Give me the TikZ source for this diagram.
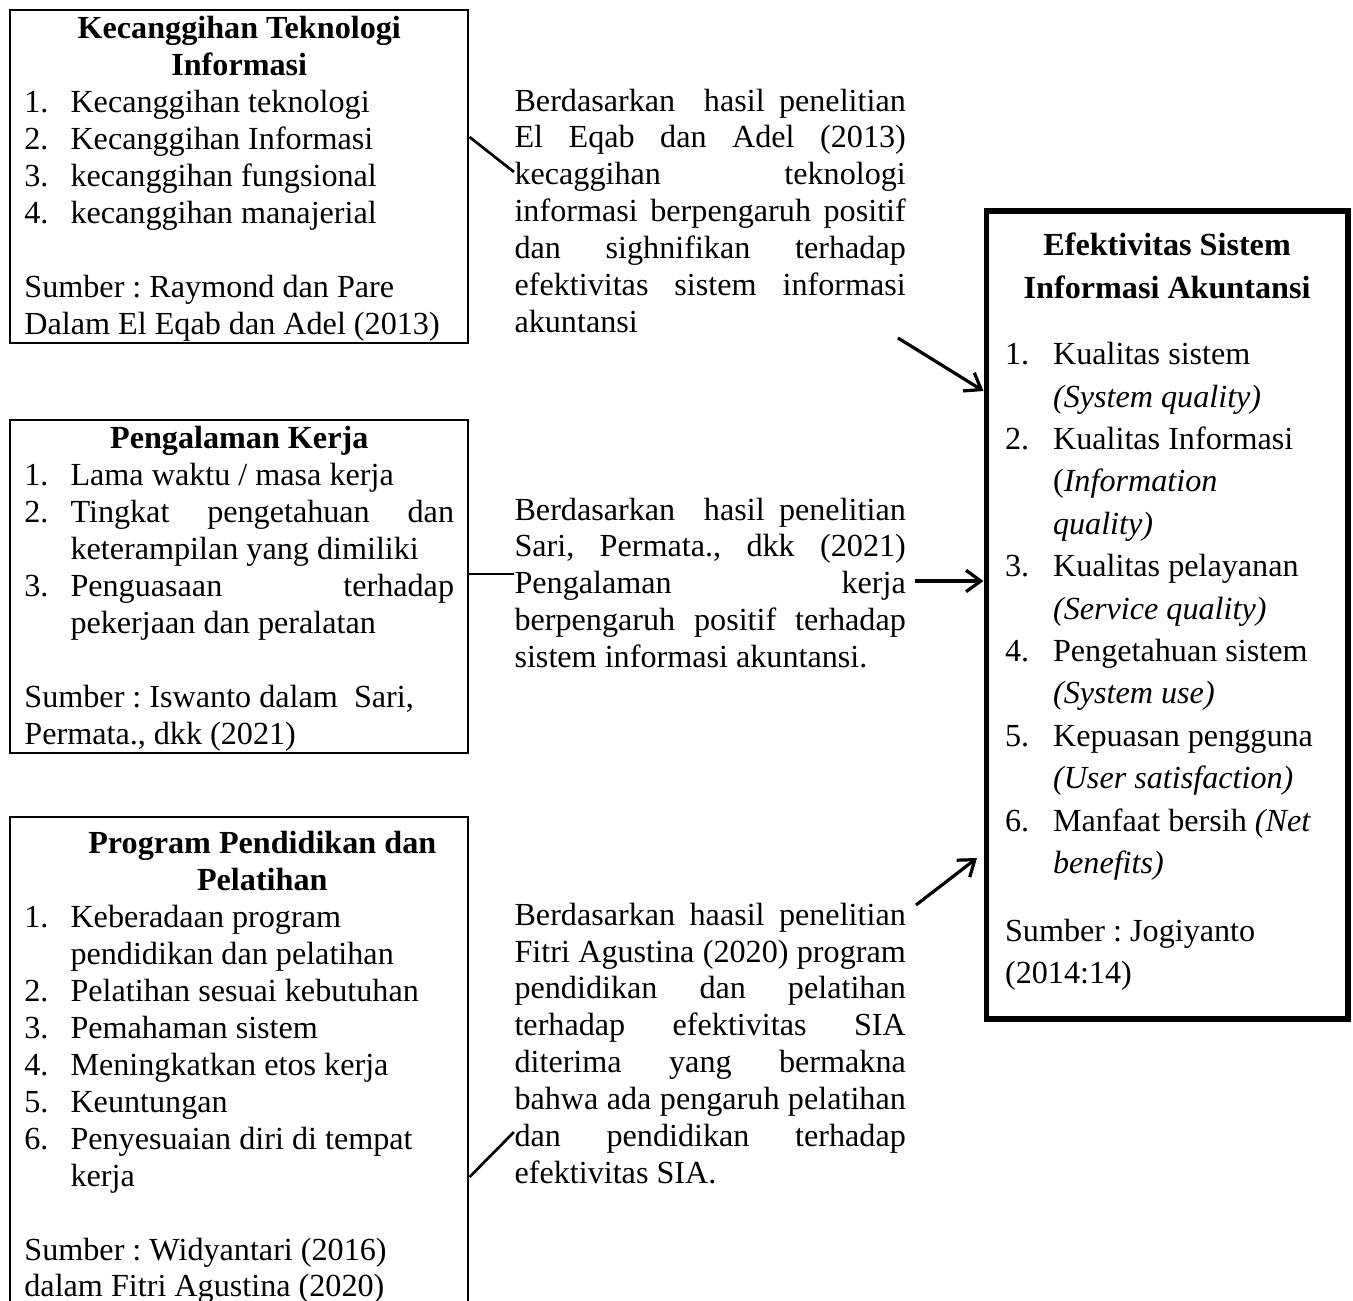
\documentclass[tikz,border=0pt]{standalone}
\usepackage{fontspec}
\setmainfont{Liberation Serif}
\usetikzlibrary{arrows.meta}
\newlength{\numw}
\setlength{\numw}{17.2pt}
\newcommand{\polos}{\spaceskip=0pt\xspaceskip=0pt\frenchspacing}
\newcommand{\judul}[1]{\makebox[\linewidth][c]{\bfseries #1}}
\newcommand{\judulin}[1]{\hspace*{\numw}\makebox[\dimexpr\linewidth-\numw\relax][c]{\bfseries #1}}
\newcommand{\butir}[2]{\makebox[\numw][l]{#1}#2}
\newcommand{\butirr}[2]{\makebox[\numw][l]{#1}\hbox to \dimexpr\linewidth-\numw\relax{\polos #2}}
\newcommand{\lanjut}[1]{\hspace*{\numw}#1}
\newcommand{\rata}[1]{\leavevmode\hbox to \linewidth{\polos #1}}
\newcommand{\atas}[1]{\rule{0pt}{#1}}
\newcommand{\bawah}[1]{\rule[-#1]{0pt}{#1}}
\tikzset{
    varbox/.style={
        draw,
        line width=0.9pt,
        anchor=north west,
        inner xsep=5.3pt,
        inner ysep=0pt,
        text width=160.3pt,
        align=flush left,
        font=\fontsize{12pt}{13.8pt}\selectfont,
        execute at begin node={\polos}
    },
    sisbox/.style={
        draw,
        line width=2.1pt,
        anchor=north west,
        inner xsep=7pt,
        inner ysep=0pt,
        text width=120.9pt,
        align=flush left,
        font=\fontsize{12pt}{15.82pt}\selectfont,
        execute at begin node={\polos\setlength{\numw}{17.9pt}}
    },
    hasil/.style={
        anchor=base west,
        inner sep=0pt,
        text width=146pt,
        align=flush left,
        font=\fontsize{12pt}{13.8pt}\selectfont,
        execute at begin node={\polos}
    },
    garis/.style={line width=1pt},
    panah/.style={line width=1.2pt, -{Straight Barb[length=5.5pt,width=8pt]}}
}

\begin{document}
\begin{tikzpicture}[x=0.3731pt, y=-0.3731pt]
    \useasboundingbox (0,0) rectangle (1353,1300);
    \clip (0,0) rectangle (1353,1300);
    \node[varbox] (kti) at (9,9) {\atas{10.45pt}\judul{Kecanggihan Teknologi}\\
        \judul{Informasi}\\
        \butir{1.}{Kecanggihan teknologi}\\
        \butir{2.}{Kecanggihan Informasi}\\
        \butir{3.}{kecanggihan fungsional}\\
        \butir{4.}{kecanggihan manajerial}\\[13.8pt]
        Sumber : Raymond dan Pare\\
        \mbox{Dalam El Eqab dan Adel (2013)}\bawah{3.4pt}};
    \node[varbox] (pk) at (9,419) {\atas{10.45pt}\judul{Pengalaman Kerja}\\
        \butir{1.}{Lama waktu / masa kerja}\\
        \butirr{2.}{Tingkat pengetahuan dan}\\
        \lanjut{keterampilan yang dimiliki}\\
        \butirr{3.}{Penguasaan terhadap}\\
        \lanjut{pekerjaan dan peralatan}\\[13.8pt]
        Sumber : Iswanto dalam\ \ Sari,\\
        Permata., dkk (2021)\bawah{3.4pt}};
    \node[varbox] (ppp) at (9,816) {\atas{13.4pt}\judulin{Program Pendidikan dan}\\
        \judulin{Pelatihan}\\
        \butir{1.}{Keberadaan program}\\
        \lanjut{pendidikan dan pelatihan}\\
        \butir{2.}{Pelatihan sesuai kebutuhan}\\
        \butir{3.}{Pemahaman sistem}\\
        \butir{4.}{Meningkatkan etos kerja}\\
        \butir{5.}{Keuntungan}\\
        \butir{6.}{Penyesuaian diri di tempat}\\
        \lanjut{kerja}\\[13.8pt]
        Sumber : Widyantari (2016)\\
        dalam Fitri Agustina (2020)\bawah{6pt}};
    \node[sisbox] (sia) at (983.5,208) {\atas{16.8pt}\judul{Efektivitas Sistem}\\
        \judul{Informasi Akuntansi}\\[9pt]
        \butir{1.}{Kualitas sistem}\\
        \lanjut{\textit{(System quality)}}\\
        \butir{2.}{Kualitas Informasi}\\
        \lanjut{(\textit{Information}}\\
        \lanjut{\textit{quality)}}\\
        \butir{3.}{Kualitas pelayanan}\\
        \lanjut{\textit{(Service quality)}}\\
        \butir{4.}{Pengetahuan sistem}\\
        \lanjut{\textit{(System use)}}\\
        \butir{5.}{Kepuasan pengguna}\\
        \lanjut{\textit{(User satisfaction)}}\\
        \butir{6.}{Manfaat bersih \textit{(Net}}\\
        \lanjut{\textit{benefits)}}\\[9.5pt]
        Sumber : Jogiyanto\\
        (2014:14)\bawah{13.1pt}};
    \node[hasil] (txt1) at (514,111) {\rata{Berdasarkan\ \ hasil penelitian}\\
        \rata{El Eqab dan Adel (2013)}\\
        \rata{kecaggihan teknologi}\\
        \rata{informasi berpengaruh positif}\\
        \rata{dan sighnifikan terhadap}\\
        \rata{efektivitas sistem informasi}\\
        akuntansi};
    \node[hasil] (txt2) at (514,520) {\rata{Berdasarkan\ \ hasil penelitian}\\
        \rata{Sari, Permata., dkk (2021)}\\
        \rata{Pengalaman kerja}\\
        \rata{berpengaruh positif terhadap}\\
        sistem informasi akuntansi.};
    \node[hasil] (txt3) at (514,925) {\rata{Berdasarkan haasil penelitian}\\
        \rata{Fitri Agustina (2020) program}\\
        \rata{pendidikan dan pelatihan}\\
        \rata{terhadap efektivitas SIA}\\
        \rata{diterima yang bermakna}\\
        \rata{bahwa ada pengaruh pelatihan}\\
        \rata{dan pendidikan terhadap}\\
        efektivitas SIA.};
    \coordinate (a1) at (898,338);
    \coordinate (a2) at (915,581);
    \coordinate (a3) at (916,905);
    \coordinate (u3) at (977,858);
    \draw[garis] (kti.east |- 0,137) -- (txt1.west |- 0,172);
    \draw[garis] (pk.east |- 0,574) -- (txt2.west |- 0,574);
    \draw[garis] (ppp.east |- 0,1177) -- (txt3.west |- 0,1132);
    \draw[panah] (a1) -- (sia.west |- 0,391);
    \draw[panah] (a2) -- (sia.west |- a2);
    \draw[panah] (a3) -- (u3);
\end{tikzpicture}
\end{document}
